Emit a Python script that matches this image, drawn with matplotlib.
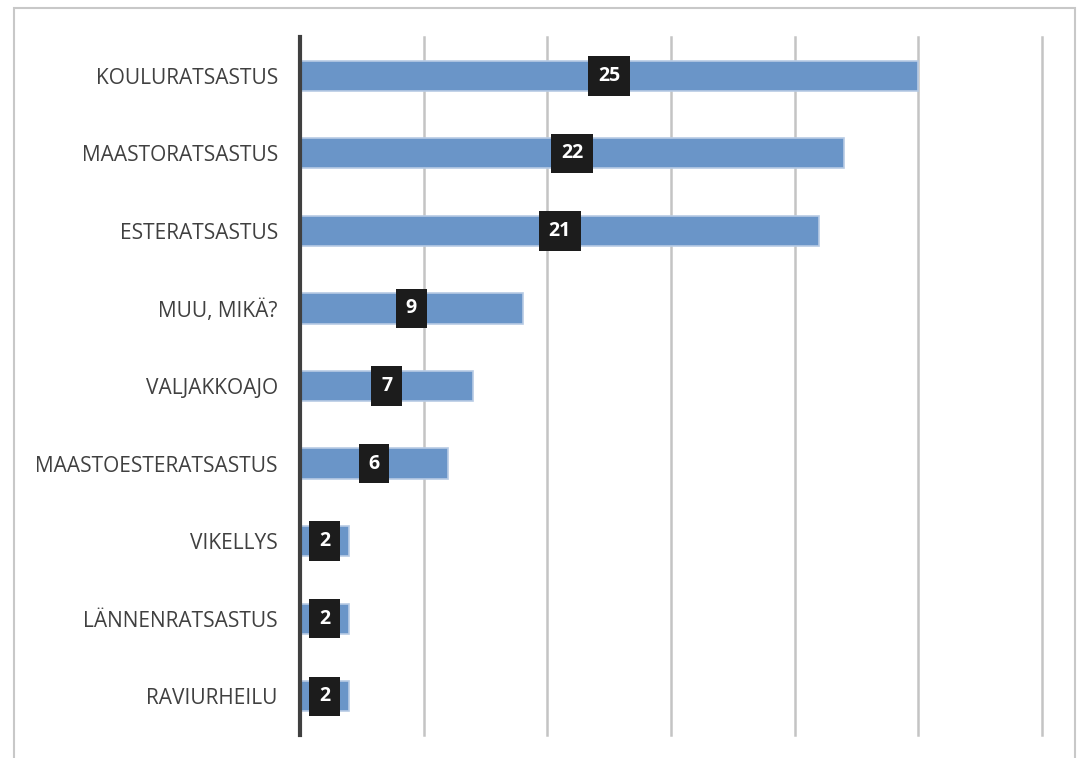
import matplotlib
matplotlib.use("Agg")
import matplotlib.pyplot as plt
from matplotlib.patches import Rectangle

categories = ["KOULURATSASTUS", "MAASTORATSASTUS", "ESTERATSASTUS", "MUU, MIKÄ?",
              "VALJAKKOAJO", "MAASTOESTERATSASTUS", "VIKELLYS", "LÄNNENRATSASTUS",
              "RAVIURHEILU"]
values = [25, 22, 21, 9, 7, 6, 2, 2, 2]
grid_ticks = [5, 10, 15, 20, 25, 30]

plt.rcParams['font.family'] = ['Open Sans', 'DejaVu Sans']

fig = plt.figure(figsize=(10.77, 7.58), dpi=100)
ax = fig.add_axes([300 / 1077, 1 - 735 / 758, 742 / 1077, 698 / 758])

# outer chart frame
fig.patches.append(Rectangle((14 / 1077, -0.01), 1061 / 1077, 1 - 8 / 758 + 0.01,
                             transform=fig.transFigure, fill=False,
                             edgecolor="#c8c8c8", linewidth=1.5))

ypos = list(range(len(categories)))
ax.barh(ypos, values, height=0.39, color="#6a95c8", edgecolor="#b7cbe4",
        linewidth=1.2, zorder=3)

# vertical gridlines
for x in grid_ticks:
    ax.plot([x, x], [8.5, -0.5], color="#c4c4c4", linewidth=1.8, zorder=1,
            clip_on=False)

for y, v in zip(ypos, values):
    ax.text(v / 2, y, str(v), ha="center", va="center", color="white",
            fontsize=14, fontweight="bold", zorder=5,
            bbox=dict(boxstyle="square,pad=0.5", facecolor="#1c1c1c",
                      edgecolor="none"))

ax.set_xlim(0, 30)
ax.set_ylim(8.5, -0.5)
ax.set_yticks(ypos)
ax.set_yticklabels(categories, fontsize=15, color="#404040")
ax.set_xticks([])
ax.tick_params(axis="y", length=0, pad=16)
for s in ["top", "right", "bottom"]:
    ax.spines[s].set_visible(False)
ax.spines["left"].set_color("#404040")
ax.spines["left"].set_linewidth(3)
ax.spines["left"].set_zorder(6)

fig.savefig("out.png", dpi=100)
